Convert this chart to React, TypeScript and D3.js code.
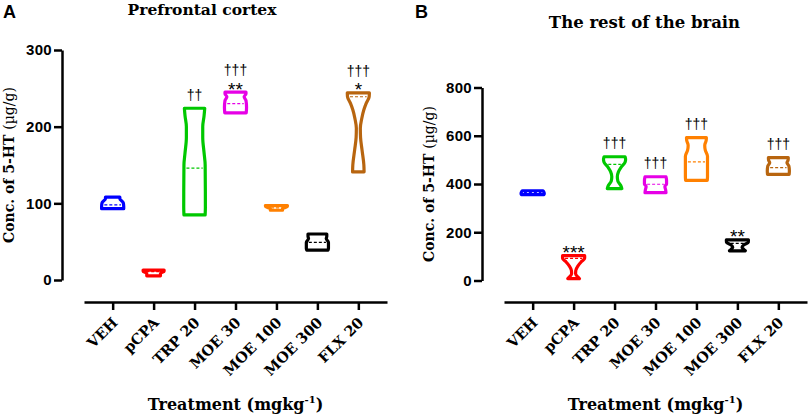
import React, { useEffect, useRef } from 'react';
import * as d3 from 'd3';

const categories = ['VEH', 'pCPA', 'TRP 20', 'MOE 30', 'MOE 100', 'MOE 300', 'FLX 20'];
const groupColors = ['#0000ff', '#ff0000', '#00c800', '#e600e6', '#ff8000', '#000000', '#b8650f'];

// violin outlines, top to bottom: [value, relative half-width]
const pfcShapes: [number, number][][] = [
  [[108, 0.65], [106, 0.65], [101, 0.95], [96, 1.0], [93, 1.0]],
  [[13, 0.95], [11.5, 0.95], [8.5, 0.62], [5.5, 0.62]],
  [[224, 0.92], [214, 0.86], [200, 0.74], [186, 0.74], [166, 0.86], [150, 0.96], [95, 0.98], [85, 0.96]],
  [[245, 0.95], [243, 0.95], [239, 0.78], [234, 0.95], [225, 1.0], [218, 0.97]],
  [[97, 1.0], [95.5, 0.97], [93, 0.55], [91, 0.55]],
  [[60, 0.85], [57, 0.85], [54, 0.8], [49, 1.0], [41, 1.0], [39, 0.96]],
  [[244, 1.0], [239, 0.98], [230, 0.7], [222, 0.5], [210, 0.3], [198, 0.18], [186, 0.2], [170, 0.33], [150, 0.5], [141, 0.52]],
];
const pfcMedians = [98, 11, 146, 230, 94, 49, 239];
const pfcMarks = [[], [], ['††'], ['**', '†††'], [], [], ['*', '†††']];
const pfcTicks = [0, 100, 200, 300];

const brainShapes: [number, number][][] = [
  [[372, 0.92], [368, 1.0], [360, 1.05], [356, 1.02]],
  [[103, 1.0], [92, 1.0], [80, 0.75], [60, 0.38], [42, 0.2], [28, 0.18], [16, 0.35], [8, 0.53]],
  [[513, 0.95], [503, 1.0], [490, 0.95], [470, 0.6], [450, 0.35], [430, 0.25], [412, 0.3], [395, 0.55], [381, 0.66]],
  [[430, 0.95], [415, 1.0], [400, 1.0], [390, 0.85], [375, 0.92], [364, 0.95]],
  [[592, 0.9], [580, 0.88], [560, 0.75], [540, 0.8], [515, 1.0], [430, 1.0], [415, 0.98]],
  [[168, 1.0], [158, 0.98], [148, 0.6], [138, 0.42], [130, 0.55], [123, 0.72]],
  [[509, 0.9], [498, 0.88], [488, 0.78], [475, 0.95], [455, 1.0], [440, 0.98]],
];
const brainMedians = [365, 92, 481, 399, 492, 154, 468];
const brainMarks = [[], ['***'], ['†††'], ['†††'], ['†††'], ['**'], ['†††']];
const brainTicks = [0, 200, 400, 600, 800];

const SERIF = '"DejaVu Serif", serif';
const SANS = '"Liberation Sans", Arial, sans-serif';

interface PanelSpec {
  ox: number;
  y0: number;
  y1: number;
  yMax: number;
  ticks: number[];
  shapes: [number, number][][];
  medians: number[];
  marks: string[][];
  letter: string;
  letterX: number;
  title: string;
  titleX: number;
  titleY: number;
  titleSize: number;
}

function drawPanel(svg: d3.Selection<SVGSVGElement, unknown, null, undefined>, p: PanelSpec) {
  const g = svg.append('g').attr('transform', `translate(${p.ox},0)`);

  const y = d3.scaleLinear().domain([0, p.yMax]).range([p.y0, p.y1]);
  const x = d3.scalePoint<string>().domain(categories).range([84, 387]).padding(0.7);

  // y axis
  const ya = g.append('g')
    .attr('transform', 'translate(62,0)')
    .call(d3.axisLeft(y).tickValues(p.ticks).tickSize(8).tickSizeOuter(0).tickPadding(2).tickFormat(d3.format('d')));
  ya.select('.domain').attr('stroke-width', 2.5);
  ya.selectAll('.tick line').attr('stroke-width', 2.5);
  ya.selectAll('text')
    .attr('font-family', SANS)
    .attr('font-weight', 'bold')
    .attr('font-size', 15)
    .attr('letter-spacing', 0.3)
    .attr('fill', '#000');

  // x axis
  const xa = g.append('g')
    .attr('transform', 'translate(0,302)')
    .call(d3.axisBottom(x).tickSize(8).tickSizeOuter(0));
  xa.select('.domain').attr('stroke-width', 2.5);
  xa.selectAll('.tick line').attr('stroke-width', 2.5);
  xa.selectAll('text')
    .attr('x', 0)
    .attr('y', 0)
    .attr('dy', '0.35em')
    .attr('transform', 'translate(2,18) rotate(-45)')
    .attr('text-anchor', 'end')
    .attr('font-family', SERIF)
    .attr('font-weight', 'bold')
    .attr('font-size', 14.5)
    .attr('fill', '#000');

  // violins
  const half = x.step() * 0.27;
  categories.forEach((cat, i) => {
    const cx = x(cat)!;
    const shape = p.shapes[i];
    const color = groupColors[i];
    const area = d3.area<[number, number]>()
      .y(d => y(d[0]))
      .x0(d => cx - d[1] * half)
      .x1(d => cx + d[1] * half)
      .curve(d3.curveMonotoneY);
    g.append('path')
      .attr('d', area(shape))
      .attr('fill', '#fff')
      .attr('stroke', color)
      .attr('stroke-width', 3.2)
      .attr('stroke-linejoin', 'round');

    const widthAt = d3.scaleLinear()
      .domain(shape.map(d => d[0]))
      .range(shape.map(d => d[1]));
    const mw = widthAt(p.medians[i]) * half - 2.5;
    g.append('line')
      .attr('x1', cx - mw)
      .attr('x2', cx + mw)
      .attr('y1', y(p.medians[i]))
      .attr('y2', y(p.medians[i]))
      .attr('stroke', color)
      .attr('stroke-width', 1.2)
      .attr('stroke-dasharray', '3,2');

    // significance marks, stacked upward
    let cursor = y(shape[0][0]) - 1.5;
    p.marks[i].forEach(m => {
      if (m.includes('*')) {
        const base = cursor + 5;
        g.append('text')
          .attr('x', cx)
          .attr('y', base)
          .attr('text-anchor', 'middle')
          .attr('font-family', SANS)
          .attr('font-size', 19)
          .attr('fill', '#000')
          .text(m);
        cursor = base - 13.5;
      } else {
        const base = cursor - 4 - 2.8;
        g.append('text')
          .attr('x', cx)
          .attr('y', base)
          .attr('text-anchor', 'middle')
          .attr('font-family', SANS)
          .attr('font-size', 14)
          .attr('fill', '#000')
          .text(m);
        cursor = base - 10.5;
      }
    });
  });

  // y label
  const yl = g.append('text')
    .attr('transform', `translate(${14},${(p.y0 + p.y1) / 2}) rotate(-90)`)
    .attr('text-anchor', 'middle')
    .attr('font-family', SERIF)
    .attr('font-size', 14)
    .attr('fill', '#000');
  yl.append('tspan').attr('font-weight', 'bold').text('Conc. of 5-HT ');
  yl.append('tspan').text('(µg/g)');

  // x label
  const xl = g.append('text')
    .attr('x', 235.5)
    .attr('y', 410)
    .attr('text-anchor', 'middle')
    .attr('font-family', SERIF)
    .attr('font-weight', 'bold')
    .attr('font-size', 16)
    .attr('fill', '#000');
  xl.append('tspan').text('Treatment (mgkg');
  xl.append('tspan').attr('font-size', 10).attr('dy', -7).text('-1');
  xl.append('tspan').attr('dy', 7).text(')');

  // title + panel letter
  g.append('text')
    .attr('x', p.titleX)
    .attr('y', p.titleY)
    .attr('text-anchor', 'middle')
    .attr('font-family', SERIF)
    .attr('font-weight', 'bold')
    .attr('font-size', p.titleSize)
    .attr('fill', '#000')
    .text(p.title);

  g.append('text')
    .attr('x', p.letterX)
    .attr('y', 18)
    .attr('font-family', SANS)
    .attr('font-weight', 'bold')
    .attr('font-size', 18)
    .attr('fill', '#000')
    .text(p.letter);
}

export default function App() {
  const ref = useRef<SVGSVGElement>(null);

  useEffect(() => {
    if (!ref.current) return;
    const svg = d3.select(ref.current);
    svg.selectAll('*').remove();

    drawPanel(svg, {
      ox: 0, y0: 280, y1: 50, yMax: 300, ticks: pfcTicks,
      shapes: pfcShapes, medians: pfcMedians, marks: pfcMarks,
      letter: 'A', letterX: 3, title: 'Prefrontal cortex', titleX: 202, titleY: 15, titleSize: 15.5,
    });
    drawPanel(svg, {
      ox: 420, y0: 280.5, y1: 87.5, yMax: 800, ticks: brainTicks,
      shapes: brainShapes, medians: brainMedians, marks: brainMarks,
      letter: 'B', letterX: -5, title: 'The rest of the brain', titleX: 224.5, titleY: 28, titleSize: 16.5,
    });
  }, []);

  return (
    <svg
      ref={ref}
      width={809}
      height={418}
      style={{ position: 'absolute', left: 0, top: 0, background: '#fff' }}
    />
  );
}
